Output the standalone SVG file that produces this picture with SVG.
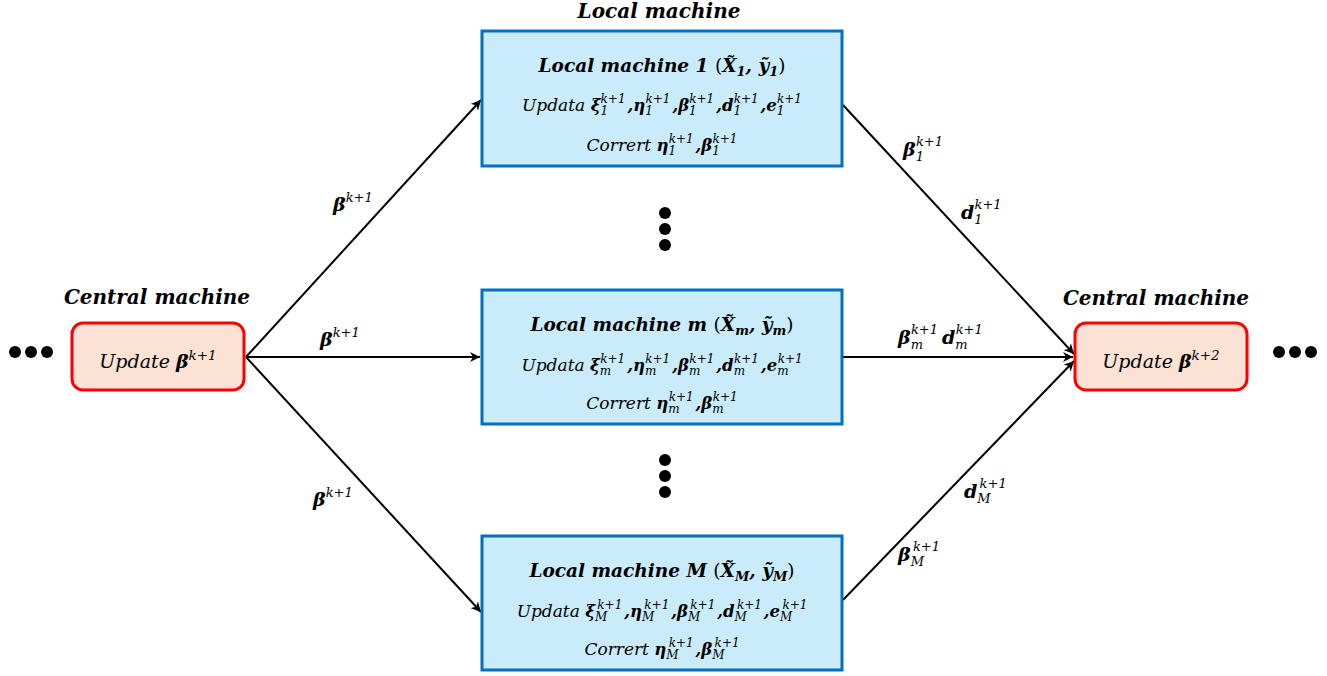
<svg xmlns="http://www.w3.org/2000/svg" width="1327" height="676" viewBox="0 0 1327 676">
<defs>
<marker id="ah" viewBox="0 0 10 10" refX="10" refY="5" markerWidth="10" markerHeight="10" markerUnits="userSpaceOnUse" orient="auto">
<path d="M0,0 L10,5 L0,10 L3,5 Z" fill="#000"/>
</marker>
<style>
text{font-family:"DejaVu Serif","Liberation Serif",serif;fill:#000}
.hd{font-size:20px;font-weight:bold;font-style:italic}
.tt{font-size:18.5px;font-weight:bold;font-style:italic}
.rw{font-size:17px;font-style:italic}
.b{font-weight:bold;font-size:16.5px}
.sp{font-size:12px;font-weight:normal}
.sb{font-size:12px;font-weight:normal}
.up{font-size:19px;font-style:italic}
.lb{font-size:19px;font-weight:bold;font-style:italic}
.ls{font-size:13px;font-weight:normal}
.local{fill:#CAECFA;stroke:#0070C0;stroke-width:3}
.central{fill:#FBE2D5;stroke:#FF0000;stroke-width:3}
.edge{stroke:#000;stroke-width:2;fill:none;marker-end:url(#ah)}
</style>
</defs>
<rect width="1327" height="676" fill="#fff"/>

<text class="hd" x="659" y="18" text-anchor="middle">Local machine</text>
<text class="hd" x="157" y="304" text-anchor="middle">Central machine</text>
<text class="hd" x="1156" y="305" text-anchor="middle">Central machine</text>

<g id="connectors">
<line class="edge" x1="246" y1="357" x2="481" y2="100"/>
<line class="edge" x1="246" y1="357" x2="480" y2="357"/>
<line class="edge" x1="246" y1="357" x2="481" y2="612"/>
<line class="edge" x1="843" y1="105" x2="1074" y2="354"/>
<line class="edge" x1="843" y1="357" x2="1073" y2="357"/>
<line class="edge" x1="843" y1="600" x2="1074" y2="361"/>
</g>

<g id="central-left">
<rect class="central" x="72" y="323" width="172" height="67" rx="11"/>
<text class="up" x="158" y="368" text-anchor="middle">Update <tspan font-weight="bold">β</tspan><tspan font-size="13.5" dy="-8">k+1</tspan></text>
</g>
<g id="central-right">
<rect class="central" x="1075" y="323" width="172" height="67" rx="11"/>
<text class="up" x="1161" y="368" text-anchor="middle">Update <tspan font-weight="bold">β</tspan><tspan font-size="13.5" dy="-8">k+2</tspan></text>
</g>

<g id="local-1">
<rect class="local" x="482" y="31" width="360" height="135"/>
<text class="tt" x="662" y="72" text-anchor="middle">Local machine 1 <tspan font-weight="normal" font-style="normal">(</tspan>X̃<tspan font-size="13" dy="4">1</tspan><tspan dy="-4">, </tspan>ỹ<tspan font-size="13" dy="4">1</tspan><tspan font-weight="normal" font-style="normal" dy="-4">)</tspan></text>
<text class="rw" x="662" y="111" text-anchor="middle">Updata <tspan class="b">ξ</tspan><tspan class="sb" dy="4">1</tspan><tspan class="sp" dx="-7.5" dy="-12">k+1</tspan><tspan class="b" dx="2" dy="8">,η</tspan><tspan class="sb" dy="4">1</tspan><tspan class="sp" dx="-7.5" dy="-12">k+1</tspan><tspan class="b" dx="2" dy="8">,β</tspan><tspan class="sb" dy="4">1</tspan><tspan class="sp" dx="-7.5" dy="-12">k+1</tspan><tspan class="b" dx="2" dy="8">,d</tspan><tspan class="sb" dy="4">1</tspan><tspan class="sp" dx="-7.5" dy="-12">k+1</tspan><tspan class="b" dx="2" dy="8">,e</tspan><tspan class="sb" dy="4">1</tspan><tspan class="sp" dx="-7.5" dy="-12">k+1</tspan></text>
<text class="rw" x="662" y="151" text-anchor="middle">Corrert <tspan class="b">η</tspan><tspan class="sb" dy="4">1</tspan><tspan class="sp" dx="-7.5" dy="-12">k+1</tspan><tspan class="b" dx="2" dy="8">,β</tspan><tspan class="sb" dy="4">1</tspan><tspan class="sp" dx="-7.5" dy="-12">k+1</tspan></text>
</g>

<g id="local-m">
<rect class="local" x="482" y="290" width="360" height="134"/>
<text class="tt" x="662" y="331" text-anchor="middle">Local machine m <tspan font-weight="normal" font-style="normal">(</tspan>X̃<tspan font-size="13" dy="4">m</tspan><tspan dy="-4">, </tspan>ỹ<tspan font-size="13" dy="4">m</tspan><tspan font-weight="normal" font-style="normal" dy="-4">)</tspan></text>
<text class="rw" x="662" y="371" text-anchor="middle">Updata <tspan class="b">ξ</tspan><tspan class="sb" dy="4">m</tspan><tspan class="sp" dx="-11" dy="-12">k+1</tspan><tspan class="b" dx="2" dy="8">,η</tspan><tspan class="sb" dy="4">m</tspan><tspan class="sp" dx="-11" dy="-12">k+1</tspan><tspan class="b" dx="2" dy="8">,β</tspan><tspan class="sb" dy="4">m</tspan><tspan class="sp" dx="-11" dy="-12">k+1</tspan><tspan class="b" dx="2" dy="8">,d</tspan><tspan class="sb" dy="4">m</tspan><tspan class="sp" dx="-11" dy="-12">k+1</tspan><tspan class="b" dx="2" dy="8">,e</tspan><tspan class="sb" dy="4">m</tspan><tspan class="sp" dx="-11" dy="-12">k+1</tspan></text>
<text class="rw" x="662" y="409" text-anchor="middle">Corrert <tspan class="b">η</tspan><tspan class="sb" dy="4">m</tspan><tspan class="sp" dx="-11" dy="-12">k+1</tspan><tspan class="b" dx="2" dy="8">,β</tspan><tspan class="sb" dy="4">m</tspan><tspan class="sp" dx="-11" dy="-12">k+1</tspan></text>
</g>

<g id="local-M">
<rect class="local" x="482" y="536" width="360" height="134"/>
<text class="tt" x="662" y="577" text-anchor="middle">Local machine M <tspan font-weight="normal" font-style="normal">(</tspan>X̃<tspan font-size="13" dy="4">M</tspan><tspan dy="-4">, </tspan>ỹ<tspan font-size="13" dy="4">M</tspan><tspan font-weight="normal" font-style="normal" dy="-4">)</tspan></text>
<text class="rw" x="662" y="617" text-anchor="middle">Updata <tspan class="b">ξ</tspan><tspan class="sb" dy="4">M</tspan><tspan class="sp" dx="-10" dy="-12">k+1</tspan><tspan class="b" dx="2" dy="8">,η</tspan><tspan class="sb" dy="4">M</tspan><tspan class="sp" dx="-10" dy="-12">k+1</tspan><tspan class="b" dx="2" dy="8">,β</tspan><tspan class="sb" dy="4">M</tspan><tspan class="sp" dx="-10" dy="-12">k+1</tspan><tspan class="b" dx="2" dy="8">,d</tspan><tspan class="sb" dy="4">M</tspan><tspan class="sp" dx="-10" dy="-12">k+1</tspan><tspan class="b" dx="2" dy="8">,e</tspan><tspan class="sb" dy="4">M</tspan><tspan class="sp" dx="-10" dy="-12">k+1</tspan></text>
<text class="rw" x="662" y="655" text-anchor="middle">Corrert <tspan class="b">η</tspan><tspan class="sb" dy="4">M</tspan><tspan class="sp" dx="-10" dy="-12">k+1</tspan><tspan class="b" dx="2" dy="8">,β</tspan><tspan class="sb" dy="4">M</tspan><tspan class="sp" dx="-10" dy="-12">k+1</tspan></text>
</g>

<g id="edge-labels">
<text class="lb" x="333" y="211">β<tspan class="ls" dy="-9">k+1</tspan></text>
<text class="lb" x="320" y="346">β<tspan class="ls" dy="-9">k+1</tspan></text>
<text class="lb" x="313" y="506">β<tspan class="ls" dy="-9">k+1</tspan></text>
<text class="lb" x="903" y="156">β<tspan class="ls" dy="5">1</tspan><tspan class="ls" dx="-8" dy="-15">k+1</tspan></text>
<text class="lb" x="961" y="219">d<tspan class="ls" dy="5">1</tspan><tspan class="ls" dx="-8" dy="-15">k+1</tspan></text>
<text class="lb" x="898" y="344">β<tspan class="ls" dy="5">m</tspan><tspan class="ls" dx="-12" dy="-15">k+1</tspan><tspan dx="4" dy="10">d</tspan><tspan class="ls" dy="5">m</tspan><tspan class="ls" dx="-12" dy="-15">k+1</tspan></text>
<text class="lb" x="964" y="498">d<tspan class="ls" dy="5">M</tspan><tspan class="ls" dx="-11" dy="-15">k+1</tspan></text>
<text class="lb" x="898" y="561">β<tspan class="ls" dy="5">M</tspan><tspan class="ls" dx="-11" dy="-15">k+1</tspan></text>
</g>

<g id="dots" fill="#000">
<circle cx="15" cy="352" r="6"/><circle cx="31" cy="352" r="6"/><circle cx="47" cy="352" r="6"/>
<circle cx="1279" cy="352" r="6"/><circle cx="1295" cy="352" r="6"/><circle cx="1311" cy="352" r="6"/>
<circle cx="665" cy="213" r="6"/><circle cx="665" cy="229" r="6"/><circle cx="665" cy="245" r="6"/>
<circle cx="665" cy="460" r="6"/><circle cx="665" cy="476" r="6"/><circle cx="665" cy="492" r="6"/>
</g>
</svg>
